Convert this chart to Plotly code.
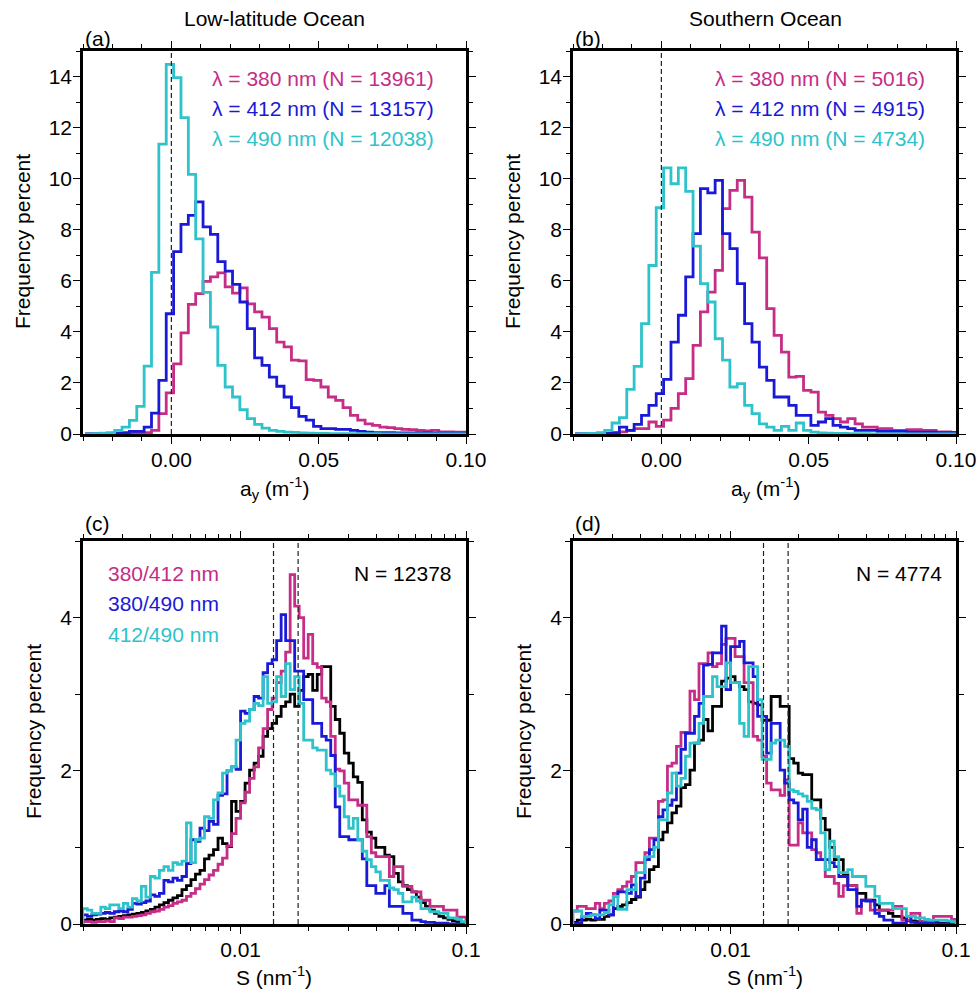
import numpy as np
import plotly.graph_objects as go

# === DATA ===
# panels (a),(b): linear bins of 0.0025 m^-1
lin_bin_start = -0.02925
lin_bin_width = 0.0025
lin_bin_count = 52

a_pink = [0.00, 0.00, 0.00, 0.00, 0.01, 0.01, 0.02, 0.03, 0.05, 0.14,
          0.80, 1.61, 2.75, 3.96, 5.08, 5.50, 5.98, 6.15, 6.31, 5.76,
          5.52, 5.72, 5.10, 4.78, 4.58, 4.13, 3.60, 3.41, 2.89, 2.86,
          2.13, 2.10, 1.84, 1.45, 1.32, 1.03, 0.73, 0.54, 0.40, 0.34,
          0.27, 0.25, 0.21, 0.18, 0.17, 0.14, 0.12, 0.14, 0.08, 0.08, 0.07, 0.07]
a_blue = [0.00, 0.00, 0.01, 0.02, 0.03, 0.05, 0.10, 0.10, 0.27, 0.82,
          2.10, 4.71, 7.14, 8.21, 8.56, 9.09, 8.11, 7.82, 6.75, 6.38,
          5.86, 5.17, 4.13, 2.98, 2.69, 2.23, 1.87, 1.45, 1.03, 0.69,
          0.54, 0.30, 0.21, 0.21, 0.18, 0.18, 0.14, 0.10, 0.07, 0.05,
          0.05, 0.05, 0.04, 0.04, 0.04, 0.04, 0.04, 0.03, 0.03, 0.03, 0.03, 0.03]
a_cyan = [0.00, 0.01, 0.03, 0.05, 0.14, 0.27, 0.53, 1.08, 2.66, 6.33,
          11.35, 14.48, 13.96, 12.39, 10.17, 7.64, 5.55, 4.19, 2.69, 1.84,
          1.45, 0.95, 0.60, 0.38, 0.23, 0.14, 0.10, 0.07, 0.06, 0.04,
          0.03, 0.02, 0.02, 0.01, 0.01, 0.01, 0.01, 0.01, 0.01, 0.01,
          0.00, 0.00, 0.00, 0.00, 0.00, 0.00, 0.00, 0.00, 0.00, 0.00, 0.00, 0.00]

b_pink = [0.00, 0.00, 0.00, 0.01, 0.02, 0.03, 0.08, 0.14, 0.21, 0.21,
          0.47, 0.30, 0.54, 1.00, 1.58, 2.17, 3.47, 4.78, 5.56, 6.41,
          8.83, 9.54, 9.93, 9.28, 7.91, 6.90, 4.91, 3.86, 3.21, 2.23,
          2.26, 1.71, 1.64, 0.86, 0.73, 0.60, 0.47, 0.60, 0.40, 0.27,
          0.27, 0.21, 0.21, 0.14, 0.14, 0.17, 0.17, 0.14, 0.14, 0.08, 0.08, 0.06]
b_blue = [0.00, 0.00, 0.00, 0.01, 0.02, 0.05, 0.27, 0.14, 0.38, 0.73,
          1.12, 1.58, 2.14, 3.60, 4.65, 6.15, 7.85, 9.61, 9.44, 9.93,
          7.85, 7.26, 5.89, 4.32, 3.60, 2.62, 2.10, 1.45, 1.45, 1.12,
          0.73, 0.73, 0.34, 0.47, 0.60, 0.34, 0.27, 0.21, 0.14, 0.14,
          0.14, 0.10, 0.10, 0.10, 0.10, 0.07, 0.07, 0.07, 0.07, 0.05, 0.05, 0.05]
b_cyan = [0.00, 0.01, 0.02, 0.05, 0.14, 0.43, 0.64, 1.75, 2.65, 4.32,
          6.60, 8.86, 10.42, 9.80, 10.42, 9.50, 7.36, 5.89, 5.17, 3.73,
          2.89, 1.84, 1.97, 1.12, 0.80, 0.40, 0.27, 0.14, 0.30, 0.14,
          0.43, 0.14, 0.07, 0.04, 0.03, 0.02, 0.02, 0.01, 0.01, 0.01,
          0.00, 0.00, 0.00, 0.00, 0.00, 0.00, 0.00, 0.00, 0.00, 0.00, 0.00, 0.00]

# panels (c),(d): log bins of 0.02 decade from 10^-2.7 to 10^-1
log_bin_start = -2.7
log_bin_width = 0.02
log_bin_count = 85

c_black = [0.05, 0.06, 0.05, 0.06, 0.07, 0.06, 0.08, 0.09, 0.10, 0.11,
           0.12, 0.13, 0.14, 0.15, 0.17, 0.19, 0.22, 0.25, 0.28, 0.31,
           0.34, 0.37, 0.45, 0.50, 0.58, 0.65, 0.70, 0.85, 0.90, 0.97,
           1.12, 1.05, 1.01, 1.60, 1.47, 1.60, 1.84, 2.01, 2.10, 2.19,
           2.45, 2.55, 2.62, 2.71, 2.84, 2.90, 3.00, 2.84, 3.05, 3.23,
           3.26, 3.05, 3.26, 3.36, 3.36, 2.84, 2.67, 2.49, 2.23, 2.10,
           1.92, 1.85, 1.36, 1.20, 1.12, 1.00, 1.00, 0.90, 0.88, 0.66,
           0.55, 0.50, 0.45, 0.42, 0.35, 0.28, 0.23, 0.18, 0.14, 0.10,
           0.08, 0.06, 0.04, 0.03, 0.02]
c_pink = [0.03, 0.03, 0.02, 0.03, 0.03, 0.04, 0.03, 0.08, 0.07, 0.09,
          0.09, 0.10, 0.11, 0.12, 0.14, 0.16, 0.17, 0.19, 0.22, 0.24,
          0.27, 0.29, 0.31, 0.36, 0.40, 0.46, 0.52, 0.58, 0.64, 0.70,
          0.78, 0.86, 1.02, 1.18, 1.38, 1.58, 1.72, 1.90, 2.05, 2.30,
          2.55, 2.80, 2.95, 3.15, 3.30, 3.55, 4.56, 4.15, 4.00, 3.47,
          3.78, 3.40, 3.35, 2.95, 2.90, 2.45, 2.02, 2.00, 1.84, 1.62,
          1.62, 1.55, 1.55, 1.14, 0.93, 0.88, 0.88, 0.88, 0.62, 0.75,
          0.75, 0.49, 0.49, 0.42, 0.42, 0.31, 0.31, 0.23, 0.23, 0.23,
          0.18, 0.18, 0.18, 0.09, 0.09]
c_blue = [0.12, 0.10, 0.12, 0.13, 0.14, 0.15, 0.14, 0.16, 0.17, 0.16,
          0.19, 0.27, 0.26, 0.28, 0.30, 0.38, 0.36, 0.40, 0.57, 0.55,
          0.60, 0.57, 0.62, 0.79, 1.10, 1.08, 1.25, 1.22, 1.34, 1.30,
          1.68, 1.70, 2.00, 2.05, 2.02, 2.78, 2.75, 2.80, 2.97, 2.95,
          3.28, 3.40, 3.45, 3.70, 4.04, 3.70, 3.70, 3.30, 3.30, 2.93,
          2.93, 2.62, 2.62, 2.45, 2.40, 2.20, 1.53, 1.14, 1.14, 1.10,
          1.10, 1.10, 0.85, 0.50, 0.50, 0.40, 0.40, 0.50, 0.23, 0.23,
          0.23, 0.14, 0.14, 0.05, 0.05, 0.03, 0.02, 0.02, 0.01, 0.01,
          0.01, 0.00, 0.00, 0.00, 0.00]
c_cyan = [0.20, 0.18, 0.14, 0.14, 0.22, 0.20, 0.25, 0.25, 0.20, 0.27,
          0.22, 0.33, 0.30, 0.49, 0.35, 0.62, 0.60, 0.70, 0.75, 0.70,
          0.80, 0.78, 0.82, 1.32, 0.80, 1.10, 1.12, 1.40, 1.38, 1.62,
          1.71, 1.97, 2.00, 2.05, 2.40, 2.62, 2.65, 2.80, 2.88, 2.85,
          3.23, 2.88, 2.90, 3.23, 2.97, 3.40, 3.06, 3.23, 2.88, 2.40,
          2.40, 2.30, 2.27, 2.27, 2.01, 1.96, 1.80, 1.67, 1.40, 1.25,
          1.38, 1.10, 0.95, 0.84, 0.75, 0.68, 0.57, 0.57, 0.47, 0.45,
          0.40, 0.29, 0.29, 0.35, 0.30, 0.20, 0.20, 0.16, 0.16, 0.14,
          0.14, 0.08, 0.08, 0.06, 0.03]

d_black = [0.02, 0.05, 0.05, 0.06, 0.05, 0.06, 0.06, 0.10, 0.12, 0.20,
           0.23, 0.25, 0.28, 0.32, 0.35, 0.45, 0.55, 0.71, 0.75, 1.10,
           1.20, 1.32, 1.45, 1.54, 1.78, 1.82, 2.01, 2.36, 2.40, 2.67,
           2.52, 2.84, 2.84, 3.17, 3.21, 3.23, 3.15, 3.10, 3.06, 2.90,
           2.88, 2.86, 2.66, 2.66, 2.97, 2.97, 2.84, 2.84, 2.16, 2.10,
           1.97, 1.95, 1.95, 1.62, 1.62, 1.38, 1.23, 1.00, 0.84, 0.84,
           0.65, 0.50, 0.50, 0.40, 0.40, 0.31, 0.31, 0.25, 0.18, 0.18,
           0.14, 0.10, 0.10, 0.08, 0.04, 0.04, 0.03, 0.03, 0.02, 0.02,
           0.02, 0.01, 0.01, 0.01, 0.01]
d_pink = [0.17, 0.23, 0.23, 0.20, 0.20, 0.27, 0.20, 0.27, 0.30, 0.40,
          0.45, 0.49, 0.55, 0.62, 0.80, 0.80, 0.93, 1.12, 1.12, 1.60,
          1.62, 2.06, 2.10, 2.32, 2.50, 2.50, 3.04, 2.93, 3.40, 3.40,
          3.54, 3.36, 3.40, 3.65, 3.73, 3.73, 3.49, 3.49, 3.15, 3.15,
          2.45, 2.40, 2.19, 1.84, 1.75, 1.75, 1.68, 1.88, 1.03, 1.03,
          1.32, 1.19, 1.19, 0.97, 0.93, 0.84, 0.62, 0.62, 0.53, 0.36,
          0.50, 0.50, 0.50, 0.14, 0.31, 0.31, 0.18, 0.18, 0.18, 0.18,
          0.18, 0.23, 0.23, 0.05, 0.05, 0.14, 0.14, 0.03, 0.03, 0.03,
          0.10, 0.10, 0.10, 0.10, 0.06]
d_blue = [0.01, 0.01, 0.10, 0.14, 0.12, 0.07, 0.18, 0.18, 0.12, 0.36,
          0.42, 0.42, 0.40, 0.51, 0.36, 0.60, 0.84, 0.97, 1.10, 1.40,
          1.49, 1.55, 1.62, 1.97, 2.28, 2.49, 2.49, 2.71, 2.88, 3.38,
          3.39, 3.54, 3.54, 3.89, 3.06, 3.62, 3.62, 3.69, 3.41, 3.41,
          3.23, 2.71, 2.71, 2.23, 2.62, 2.62, 2.01, 1.84, 1.62, 1.58,
          1.36, 1.50, 1.00, 1.10, 0.84, 0.84, 0.84, 0.80, 0.75, 0.62,
          0.62, 0.45, 0.45, 0.23, 0.31, 0.30, 0.30, 0.14, 0.10, 0.05,
          0.05, 0.01, 0.01, 0.01, 0.10, 0.02, 0.01, 0.01, 0.01, 0.01,
          0.00, 0.00, 0.00, 0.00, 0.00]
d_cyan = [0.17, 0.17, 0.10, 0.10, 0.12, 0.12, 0.12, 0.15, 0.25, 0.36,
          0.19, 0.19, 0.45, 0.45, 0.67, 0.67, 0.88, 0.88, 1.00, 1.36,
          1.36, 1.71, 1.97, 1.80, 1.90, 2.19, 2.36, 2.36, 2.62, 2.97,
          2.97, 3.23, 3.10, 3.10, 3.41, 3.15, 3.15, 2.62, 2.45, 3.36,
          3.36, 2.93, 2.15, 2.15, 2.36, 2.40, 2.40, 2.32, 1.75, 1.73,
          1.70, 1.67, 1.60, 1.51, 1.49, 1.19, 0.71, 1.08, 0.88, 0.67,
          0.67, 0.71, 0.62, 0.62, 0.62, 0.49, 0.49, 0.36, 0.27, 0.27,
          0.27, 0.20, 0.20, 0.20, 0.10, 0.10, 0.08, 0.08, 0.06, 0.05,
          0.05, 0.05, 0.05, 0.04, 0.03]

top_titles = ["Low-latitude Ocean", "Southern Ocean"]
panel_tags = ["(a)", "(b)", "(c)", "(d)"]
wl_labels = ["λ = 380 nm", "λ = 412 nm", "λ = 490 nm"]
n_low = [13961, 13157, 12038]
n_south = [5016, 4915, 4734]
ratio_labels = ["380/412 nm", "380/490 nm", "412/490 nm"]
n_slope = [12378, 4774]
zero_line = [0.0]
slope_lines = [0.014, 0.018]

# === STYLE ===
FONT = "Liberation Sans, Arial, Helvetica, sans-serif"
PINK = "#c52d87"
BLUE = "#1a1ad6"
CYAN = "#2ec3cb"
BLACK = "#000000"
W, H = 979, 990


def px(x):
    return x / W


def py(y):
    return 1 - y / H


def stairs(edges, vals):
    xs = [edges[0]] + list(edges[:-1]) + [edges[-1]]
    ys = [0] + list(vals) + [0]
    return xs, ys


lin_edges = lin_bin_start + lin_bin_width * np.arange(lin_bin_count + 1)
log_edges = 10 ** (log_bin_start + log_bin_width * np.arange(log_bin_count + 1))

fig = go.Figure()

panels = [
    ("x", "y", lin_edges, [(a_pink, PINK), (a_blue, BLUE), (a_cyan, CYAN)]),
    ("x2", "y2", lin_edges, [(b_pink, PINK), (b_blue, BLUE), (b_cyan, CYAN)]),
    ("x3", "y3", log_edges, [(c_black, BLACK), (c_pink, PINK), (c_blue, BLUE), (c_cyan, CYAN)]),
    ("x4", "y4", log_edges, [(d_black, BLACK), (d_pink, PINK), (d_blue, BLUE), (d_cyan, CYAN)]),
]
for xa, ya, edges, series in panels:
    for vals, col in series:
        xs, ys = stairs(edges, vals)
        fig.add_trace(go.Scatter(x=xs, y=ys, mode="lines", xaxis=xa, yaxis=ya,
                                 line=dict(color=col, width=2.8, shape="hv"),
                                 showlegend=False, hoverinfo="skip"))

# dashed reference lines
for xa in ["x", "x2"]:
    for v in zero_line:
        fig.add_shape(type="line", xref=xa, yref=xa.replace("x", "y") + " domain",
                      x0=v, x1=v, y0=0, y1=1,
                      line=dict(color="#222", width=1.2, dash="5px,3px"))
for xa in ["x3", "x4"]:
    for v in slope_lines:
        fig.add_shape(type="line", xref=xa, yref=xa.replace("x", "y") + " domain",
                      x0=v, x1=v, y0=0, y1=1,
                      line=dict(color="#222", width=1.2, dash="5px,3px"))

tick_font = dict(family=FONT, size=21, color="black")
base = dict(showline=True, linecolor="black", linewidth=2.6, mirror="ticks",
            ticks="outside", ticklen=7, tickwidth=1.4, tickcolor="black",
            showgrid=False, zeroline=False, tickfont=tick_font, automargin=False)

xdom_l = [px(83), px(466)]
xdom_r = [px(573), px(956)]
ydom_t = [py(434), py(51)]
ydom_b = [py(924), py(541)]

lin_x = dict(base, range=[-0.03, 0.10], tickvals=[0.0, 0.05, 0.10],
             ticktext=["0.00", "0.05", "0.10"], ticklabelstandoff=-2,
             minor=dict(tickmode="linear", tick0=0, dtick=0.01, ticks="outside",
                        ticklen=4, tickwidth=1.4, tickcolor="black", showgrid=False))
lin_y = dict(base, range=[0, 15], tickmode="linear", tick0=0, dtick=2,
             ticklabelstandoff=-3,
             minor=dict(tickmode="linear", tick0=0, dtick=1, ticks="outside",
                        ticklen=4, tickwidth=1.4, tickcolor="black", showgrid=False))
minor_log = [m * 10.0 ** e for e in (-3, -2) for m in range(2, 10)]
log_x = dict(base, type="log", range=[np.log10(0.002), -1], tickvals=[0.01, 0.1],
             ticktext=["0.01", "0.1"], ticklabelstandoff=-2,
             minor=dict(tickmode="array", tickvals=minor_log, ticks="outside",
                        ticklen=4, tickwidth=1.4, tickcolor="black", showgrid=False))
log_y = dict(base, range=[0, 5], tickvals=[0, 2, 4], ticklabelstandoff=-3,
             minor=dict(tickmode="linear", tick0=0, dtick=1, ticks="outside",
                        ticklen=5, tickwidth=1.4, tickcolor="black", showgrid=False))

fig.update_layout(
    width=W, height=H, margin=dict(l=0, r=0, t=0, b=0),
    paper_bgcolor="white", plot_bgcolor="white",
    font=dict(family=FONT, size=21, color="black"),
    xaxis=dict(lin_x, domain=xdom_l, anchor="y"),
    yaxis=dict(lin_y, domain=ydom_t, anchor="x"),
    xaxis2=dict(lin_x, domain=xdom_r, anchor="y2"),
    yaxis2=dict(lin_y, domain=ydom_t, anchor="x2"),
    xaxis3=dict(log_x, domain=xdom_l, anchor="y3"),
    yaxis3=dict(log_y, domain=ydom_b, anchor="x3"),
    xaxis4=dict(log_x, domain=xdom_r, anchor="y4"),
    yaxis4=dict(log_y, domain=ydom_b, anchor="x4"),
)

ann = []


def text(x, y, s, color="black", xanchor="center", angle=0):
    ann.append(dict(x=px(x), y=py(y), xref="paper", yref="paper", text=s,
                    showarrow=False, xanchor=xanchor, yanchor="middle",
                    textangle=angle, font=dict(family=FONT, size=21, color=color)))


# column titles and panel tags
text(274, 18, top_titles[0])
text(765, 18, top_titles[1])
for tag, (x, y) in zip(panel_tags, [(83, 38), (573, 38), (83, 523), (573, 523)]):
    text(x, y, tag, xanchor="left")

# axis titles
text(274, 488, "a<sub>y</sub> (m<sup>-1</sup>)")
text(765, 488, "a<sub>y</sub> (m<sup>-1</sup>)")
text(274, 976, "S (nm<sup>-1</sup>)")
text(765, 976, "S (nm<sup>-1</sup>)")
text(22, 242, "Frequency percent", angle=-90)
text(512, 242, "Frequency percent", angle=-90)
text(33, 732, "Frequency percent", angle=-90)
text(523, 732, "Frequency percent", angle=-90)

# in-panel legends
cols = [PINK, BLUE, CYAN]
for i, (lab, c) in enumerate(zip(wl_labels, cols)):
    yy = 79 + 29.5 * i
    text(436, yy, f"{lab} (N = {n_low[i]})", color=c, xanchor="right")
    text(927, yy, f"{lab} (N = {n_south[i]})", color=c, xanchor="right")
    text(106, 573 + 30.5 * i, ratio_labels[i], color=c, xanchor="left")
text(454, 573, f"N = {n_slope[0]}", xanchor="right")
text(944, 573, f"N = {n_slope[1]}", xanchor="right")

fig.update_layout(annotations=ann)
# the page body has a default 8px margin; drop it so the figure sits at 0,0
fig.write_html("out.html", config={"displayModeBar": False},
               post_script="document.body.style.margin='0px';")
